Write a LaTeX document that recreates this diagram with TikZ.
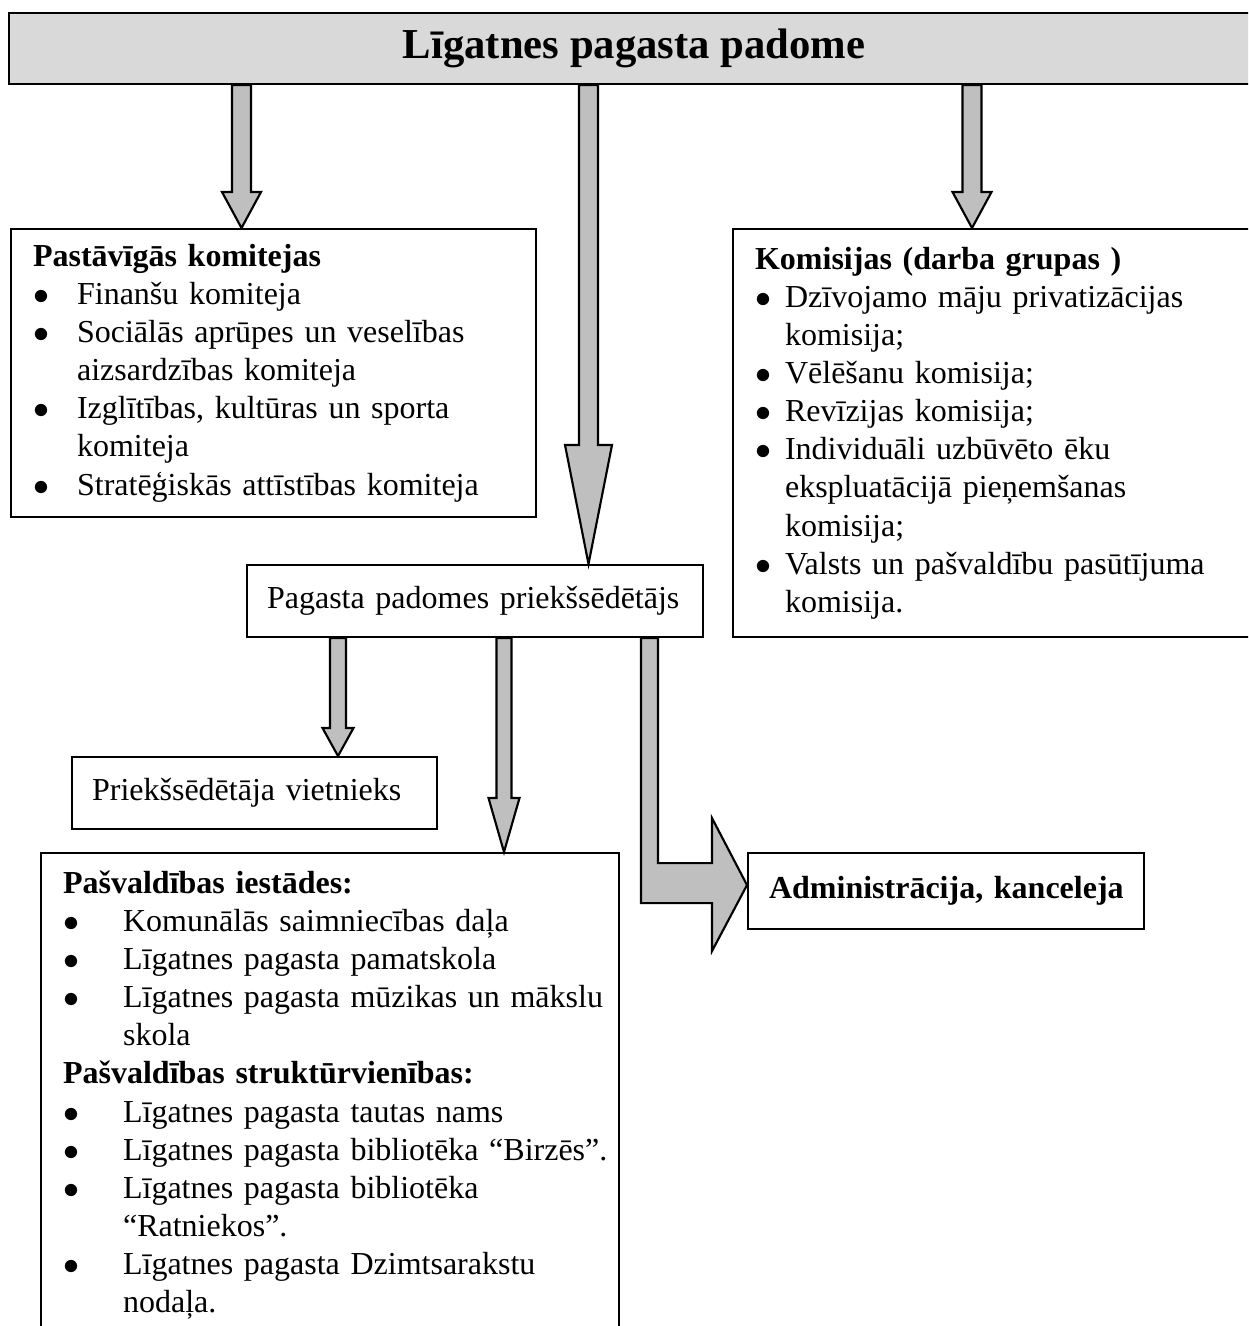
\documentclass[tikz,border=0pt]{standalone}
\usepackage{fontspec}
\setmainfont{Liberation Serif}
\usetikzlibrary{calc}

\newcommand\px{0.375pt}
\newcommand\itm[2]{\mbox{\makebox[#1][l]{$\bullet$}#2}}
\newcommand\cnt[2]{\mbox{\hspace*{#1}#2}}
\newcommand\downblock[6]{%
 \draw[blockarrow] let \p1=(#1.south), \p2=(#2.north) in
  ({(#3-#4)*\px},\y1) -- ({(#3-#4)*\px},{\y2+#6*\px}) -- ({(#3-#5)*\px},{\y2+#6*\px})
  -- ({#3*\px},\y2) -- ({(#3+#5)*\px},{\y2+#6*\px}) -- ({(#3+#4)*\px},{\y2+#6*\px})
  -- ({(#3+#4)*\px},\y1) -- cycle;}

\tikzset{
 box/.style={draw,line width=0.8pt,anchor=north west,inner ysep=0pt,inner xsep=8.25pt,
  align=left,font=\fontsize{12pt}{14.3pt}\selectfont},
 blockarrow/.style={fill=gray!50,draw=black,line width=0.8pt,line join=miter}
}

\begin{document}
\begin{tikzpicture}[x=\px,y=-\px]
\path[use as bounding box,clip] (0,0) rectangle (1248,1326);

\node[box,fill=gray!30,minimum width=468.75pt,minimum height=26.625pt,
 font=\fontsize{16pt}{19pt}\selectfont\bfseries] (padome) at (8,12) {Līgatnes pagasta padome};

\node[box,text width=180.375pt,minimum height=108pt] (komitejas) at (10,228) {%
 \textbf{Pastāvīgās komitejas}\\
 \itm{16.5pt}{Finanšu komiteja}\\
 \itm{16.5pt}{Sociālās aprūpes un veselības}\\
 \cnt{16.5pt}{aizsardzības komiteja}\\
 \itm{16.5pt}{Izglītības, kultūras un sporta}\\
 \cnt{16.5pt}{komiteja}\\
 \itm{16.5pt}{Stratēģiskās attīstības komiteja}};

\node[box,text width=182.25pt,minimum height=153pt] (komisijas) at (732,228) {%
 \textbf{Komisijas (darba grupas )}\\
 \itm{11.25pt}{Dzīvojamo māju privatizācijas}\\
 \cnt{11.25pt}{komisija;}\\
 \itm{11.25pt}{Vēlēšanu komisija;}\\
 \itm{11.25pt}{Revīzijas komisija;}\\
 \itm{11.25pt}{Individuāli uzbūvēto ēku}\\
 \cnt{11.25pt}{ekspluatācijā pieņemšanas}\\
 \cnt{11.25pt}{komisija;}\\
 \itm{11.25pt}{Valsts un pašvaldību pasūtījuma}\\
 \cnt{11.25pt}{komisija.}};

\node[box,inner xsep=7.5pt,text width=156pt,minimum height=27pt] (prie) at (246,564)
 {\mbox{Pagasta padomes priekšsēdētājs}};

\node[box,inner xsep=7.5pt,text width=121.875pt,minimum height=27pt] (vietn) at (71,756)
 {\mbox{Priekšsēdētāja vietnieks}};

\node[box,text width=200.25pt,minimum height=181.5pt] (iestades) at (40,852) {%
 \textbf{Pašvaldības iestādes:}\\
 \itm{22.5pt}{Komunālās saimniecības daļa}\\
 \itm{22.5pt}{Līgatnes pagasta pamatskola}\\
 \itm{22.5pt}{Līgatnes pagasta mūzikas un mākslu}\\
 \cnt{22.5pt}{skola}\\
 \textbf{Pašvaldības struktūrvienības:}\\
 \itm{22.5pt}{Līgatnes pagasta tautas nams}\\
 \itm{22.5pt}{Līgatnes pagasta bibliotēka “Birzēs”.}\\
 \itm{22.5pt}{Līgatnes pagasta bibliotēka}\\
 \cnt{22.5pt}{“Ratniekos”.}\\
 \itm{22.5pt}{Līgatnes pagasta Dzimtsarakstu}\\
 \cnt{22.5pt}{nodaļa.}};

\node[box,inner xsep=7.875pt,text width=132.75pt,minimum height=28.5pt,
 font=\fontsize{12pt}{14.3pt}\selectfont\bfseries] (admin) at (747,852)
 {\mbox{Administrācija, kanceleja}};

\downblock{padome}{komitejas}{241.5}{9.5}{19.5}{36}
\downblock{padome}{prie}{588.5}{9.5}{23.5}{119}
\downblock{padome}{komisijas}{972}{9.5}{19.5}{36}
\downblock{prie}{vietn}{338}{8}{15.5}{28}
\downblock{prie}{iestades}{504}{7.5}{15.5}{54}

\draw[blockarrow] let \p1=(prie.south), \p2=(admin.west) in
 ({641*\px},\y1) -- ({641*\px},{\y2-12*\px}) -- ({712*\px},{\y2-12*\px})
 -- ({712*\px},{\y2-60*\px}) -- (\x2,{\y2+6*\px}) -- ({712*\px},{\y2+73*\px})
 -- ({712*\px},{\y2+28*\px}) -- ({658*\px},{\y2+28*\px}) -- ({658*\px},\y1) -- cycle;
\end{tikzpicture}
\end{document}
